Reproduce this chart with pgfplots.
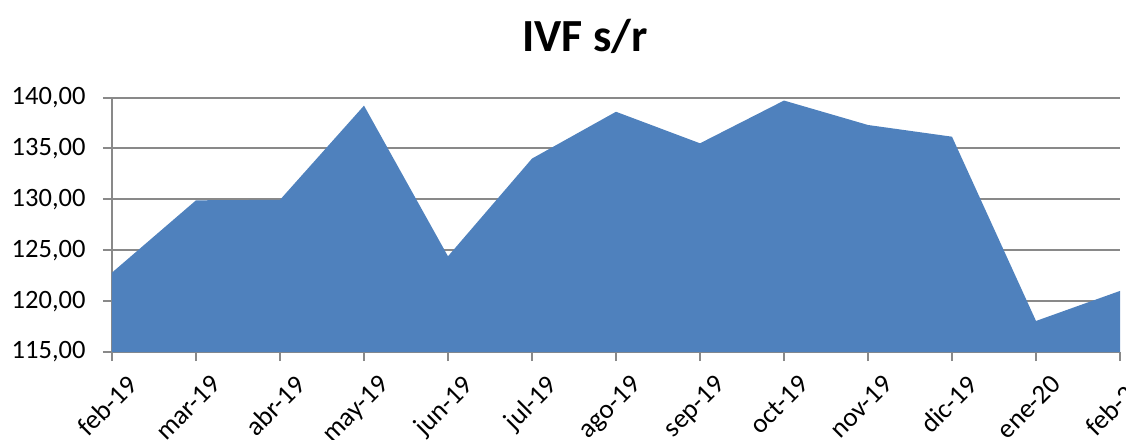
\documentclass[border=0pt]{standalone}
\usepackage{pgfplots}
\pgfplotsset{compat=1.18}
\usepackage{fontspec}
\setmainfont{Carlito}
\definecolor{areablue}{HTML}{4F81BD}
\definecolor{gridgray}{HTML}{898989}
\begin{document}
\begin{tikzpicture}[x=1pt,y=1pt]
\useasboundingbox (-112,-87) rectangle (1014,352);
\begin{axis}[
  at={(0,0)}, anchor=south west,
  scale only axis, width=1008pt, height=254.5pt,
  xmin=0, xmax=12, ymin=115, ymax=140,
  xtick={0,...,12},
  xticklabels={feb-19,mar-19,abr-19,may-19,jun-19,jul-19,ago-19,sep-19,oct-19,nov-19,dic-19,ene-20,feb-20},
  ytick={115,120,...,140},
  axis lines=left, axis line style={draw=gridgray, line width=2pt, -},
  ymajorgrids, grid style={draw=gridgray, line width=2pt},
  tick align=outside, major tick length=9pt,
  tick style={draw=gridgray, line width=2pt},
  /pgf/number format/.cd, fixed, fixed zerofill, precision=2, use comma, 1000 sep={}, assume math mode=true,
  /pgfplots/.cd,
  yticklabel style={font=\fontsize{26.5}{30}\selectfont, text=black, xshift=-14pt},
  xticklabel style={font=\fontsize{27}{30}\selectfont, text=black, rotate=45, anchor=north east, xshift=4pt, yshift=-15pt},
  clip=true,
]
\addplot[fill=areablue, draw=none] coordinates {
(0,122.8) (1,129.9) (2,129.95) (3,139.2) (4,124.4) (5,134.0) (6,138.6) (7,135.5) (8,139.7) (9,137.3) (10,136.15) (11,118.05) (12,121.0)
} \closedcycle;
\end{axis}
\node[font=\fontsize{46}{50}\selectfont\bfseries] at (473,316) {IVF s/r};
\end{tikzpicture}
\end{document}
